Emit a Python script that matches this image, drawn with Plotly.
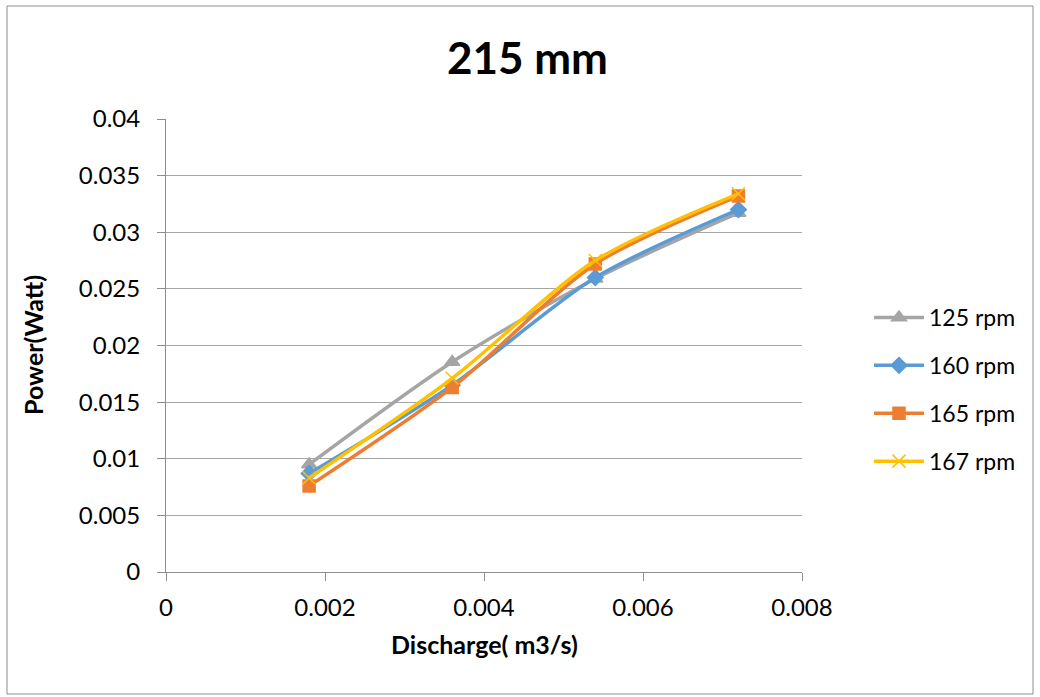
import plotly.graph_objects as go

# Discharge (m3/s) and power (W) for each rotor speed, 215 mm runner
discharge = [0.0018, 0.0036, 0.0054, 0.0072]
power_125 = [0.0095, 0.01855, 0.0259, 0.0317]
power_160 = [0.0087, 0.0165, 0.0260, 0.0320]
power_165 = [0.0076, 0.0163, 0.0272, 0.0332]
power_167 = [0.0083, 0.0171, 0.0275, 0.0334]

series = [
    ("125 rpm", power_125, "#a5a5a5", "triangle-up", 13),
    ("160 rpm", power_160, "#5b9bd5", "diamond", 12),
    ("165 rpm", power_165, "#ed7d31", "square", 12),
    ("167 rpm", power_167, "#ffc000", "x-thin", 13),
]

W, H = 1040, 697
L, R, T, B = 166, 802, 119, 572  # plot area in pixels


def px(x):
    return (x - L) / (R - L)


def py(y):
    return (B - y) / (B - T)


font_family = "Lato, 'Open Sans', sans-serif"

fig = go.Figure()
for i, (name, vals, color, sym, size) in enumerate(series):
    fig.add_trace(go.Scatter(
        x=discharge, y=vals, name=name, mode="lines+markers",
        line=dict(color=color, width=3.5, shape="spline", smoothing=0.8),
        marker=dict(symbol=sym, size=size, color=color,
                    line=dict(color=color, width=1.5)),
        legendgroup=f"g{i}",
    ))

axis_common = dict(
    showline=True, linecolor="#8c8c8c", linewidth=1,
    ticks="outside", tickcolor="#8c8c8c", ticklen=8,
    tickfont=dict(size=24, color="#000000", family=font_family),
    zeroline=False,
)

fig.update_layout(
    width=W, height=H,
    margin=dict(l=L, r=W - R, t=T, b=H - B, pad=0),
    paper_bgcolor="white", plot_bgcolor="white",
    showlegend=True,
    legend=dict(
        x=px(869), y=py(296), xanchor="left", yanchor="top",
        font=dict(size=23, color="#000000", family=font_family),
        tracegroupgap=15, itemwidth=50,
        bgcolor="rgba(0,0,0,0)",
    ),
    xaxis=dict(
        range=[0, 0.008], tickvals=[0, 0.002, 0.004, 0.006, 0.008],
        ticktext=["0", "0.002", "0.004", "0.006", "0.008"],
        showgrid=False, ticklabelstandoff=6, **axis_common,
    ),
    yaxis=dict(
        range=[0, 0.04],
        tickvals=[0, 0.005, 0.01, 0.015, 0.02, 0.025, 0.03, 0.035, 0.04],
        ticktext=["0", "0.005", "0.01", "0.015", "0.02", "0.025", "0.03",
                  "0.035", "0.04"],
        showgrid=True, gridcolor="#a6a6a6", gridwidth=1,
        ticklabelstandoff=12, **axis_common,
    ),
    annotations=[
        dict(text="<b>215 mm</b>", x=px(527), y=py(57), xref="paper",
             yref="paper", showarrow=False, xanchor="center", yanchor="middle",
             font=dict(size=44, color="#000000", family=font_family)),
        dict(text="<b>Discharge( m3/s)</b>", x=px(484), y=py(644),
             xref="paper", yref="paper", showarrow=False,
             xanchor="center", yanchor="middle",
             font=dict(size=25, color="#000000", family=font_family)),
        dict(text="<b>Power(Watt)</b>", x=px(33), y=py(345),
             xref="paper", yref="paper", showarrow=False, textangle=-90,
             xanchor="center", yanchor="middle",
             font=dict(size=25, color="#000000", family=font_family)),
    ],
    shapes=[
        dict(type="rect", xref="paper", yref="paper",
             x0=px(7), x1=px(1033), y0=py(694), y1=py(6),
             line=dict(color="#8c8c8c", width=1), fillcolor="rgba(0,0,0,0)",
             layer="below"),
    ],
)

fig.write_html("out.html")
